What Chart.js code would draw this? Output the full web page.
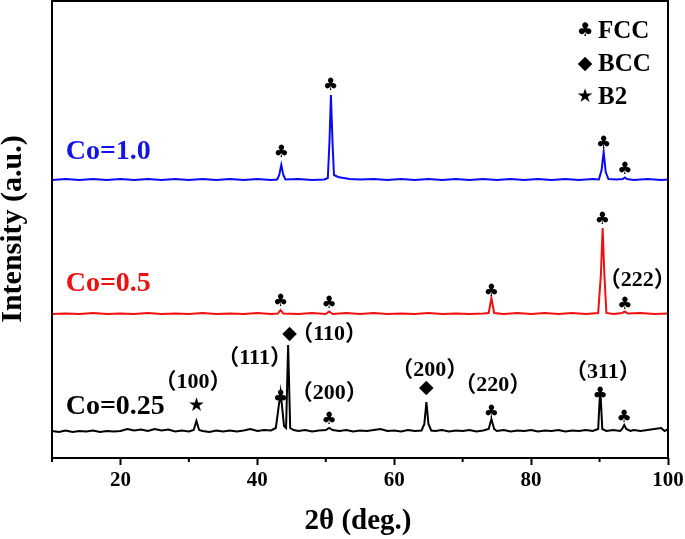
<!DOCTYPE html>
<html>
<head>
<meta charset="utf-8">
<script src="https://cdn.jsdelivr.net/npm/chart.js@4.4.1/dist/chart.umd.min.js"></script>
<style>
  html, body { margin: 0; padding: 0; background: #fff; }
  #wrap { width: 685px; height: 539px; }
</style>
</head>
<body>
<div id="wrap"><canvas id="xrdChart" width="685" height="539"></canvas></div>
<script>
// --- data: [2theta, intensity above own baseline] ---
const co100 = [[10,0],[12,1],[14,0],[16,1],[18,0],[20,1],[22,0],[24,1],[26,0],[28,1],[30,0],[32,1],[34,0],[36,1],[38,0],[40,1],[42,0],
  [42.9,0.5],[43.2,5],[43.5,15],[43.8,5],[44.1,0.5],[46,1],[48,0],[49.8,0.5],[50.3,2],[50.55,40],[50.75,85],[51.0,35],[51.2,5],
  [51.8,3],[52.6,2],[53.5,1],[55,0.5],[57,1],[59,0],[61,1],[63,0],[65,1],[67,0],[69,1],[71,0],[73,1],[75,0],[77,1],[79,0],
  [81,1],[83,0],[85,1],[87,0],[89,1],[89.9,0.5],[90.3,10],[90.6,28],[90.9,8],[91.3,1],[92.5,0.5],[93.4,1],[93.7,2.5],[94.0,1],
  [95,0],[97,1],[99,0],[100,0.5]];

const co050 = [[10,0],[12,0.5],[14,0],[16,1],[18,0],[20,0.5],[22,0],[24,1],[26,0],[28,0.5],[30,0],[32,1],[34,0],[36,0.5],[38,0],
  [40,1],[42,0],[43,0.5],[43.4,4],[43.8,0.5],[46,0],[48,1],[50,0],[50.5,2.5],[51,0],[53,1],[55,0],[57,1],[59,0],[61,0.5],[63,0],
  [65,1],[67,0],[69,0.5],[71,0],[73,0.5],[73.8,1],[74.2,16],[74.6,1],[76,0],[78,1],[80,0],[82,1],[84,0],[86,1],[88,0],[89.8,1],
  [90.2,40],[90.45,86],[90.7,40],[91.0,1],[92,0],[93.3,1],[93.7,2.5],[94.1,0.5],[96,1],[98,0],[100,0.5]];

const co025 = [[10,1],[11,0],[12,1.5],[13,0],[14,1],[15,0.5],[16,1.5],[17,0],[18,1],[19,0.5],[20,1],[21,3],[22,1.5],[23,2.5],
  [24,1],[25,3],[26,1.5],[27,2.5],[28,0.5],[29,1.5],[30,0.5],[30.7,2],[31.1,11],[31.5,2],[32,1],[33,0],[34,1.5],[35,0.5],
  [36,1.5],[37,0.5],[38,1.5],[39,3],[40,1],[41,2],[42,1.5],[42.7,4],[43.4,40],[43.9,6],[44.2,4],[44.5,87],[44.8,4],[45.3,2],
  [46,1],[47,2],[48,0.5],[49,1.5],[50,2],[50.5,4],[51,2],[52,1],[53,2],[54,0.5],[55,1.5],[56,1],[57,2],[58,3],[59,1],[60,1.5],
  [61,0.5],[62,2],[63,1],[64,1.5],[64.4,8],[64.7,30],[65.0,8],[65.4,1.5],[66,1],[67,2],[68,0.5],[69,1.5],[70,1],[71,2],[72,0.5],
  [73,1.5],[73.8,3],[74.2,13],[74.6,3],[75,1],[76,2],[77,0.5],[78,1.5],[79,1],[80,2],[81,0.5],[82,1.5],[83,1],[84,2],[85,0.5],
  [86,1.5],[87,1],[88,2],[89,1],[89.8,3],[90.1,44],[90.4,3],[91,1],[92,2],[93,1],[93.3,3],[93.6,7],[93.9,3],[94.5,1],[95,2],
  [96,1],[97,2],[98,3],[99,4],[99.5,1],[100,3]];

// vertical offsets for the stacked patterns
const offset100 = 278;
const offset050 = 144;
const offset025 = 26;

const seriesNames = ['Co=1.0', 'Co=0.5', 'Co=0.25'];
const xTickLabels = [20, 40, 60, 80, 100];

// phase markers / Miller indices: [2theta, y, text]
const markers = [
  [43.5, 305, '\u2663'], [50.7, 372, '\u2663'], [90.6, 314, '\u2663'], [93.7, 288, '\u2663'],
  [43.4, 156, '\u2663'], [50.5, 154, '\u2663'], [74.2, 166, '\u2663'], [90.4, 238, '\u2663'], [93.7, 153, '\u2663'],
  [31.1, 52, '\u2605'], [43.4, 60, '\u2663'], [44.7, 124, '\u25C6'], [50.5, 38, '\u2663'], [64.7, 70, '\u25C6'],
  [74.2, 45, '\u2663'], [90.1, 63, '\u2663'], [93.6, 40, '\u2663']
];
const planes = [
  [30.6, 76, '（100）'], [39.6, 100, '（111）'], [50.5, 124, '（110）'], [50.5, 65, '（200）'],
  [65.2, 88, '（200）'], [74.4, 73, '（220）'], [90.5, 86, '（311）'], [95.5, 178, '（222）']
];
const seriesLabels = [[12, 306, 'Co=1.0', '#1414e6'], [12, 174, 'Co=0.5', '#ee1111'], [12, 51, 'Co=0.25', '#000']];

const serif = '"Liberation Serif", "Times New Roman", "DejaVu Serif", serif';
const symFont = '"DejaVu Sans", sans-serif';

function shift(arr, off) {
  return arr.map(p => ({ x: p[0], y: p[1] + off }));
}

const annotatePlugin = {
  id: 'annotate',
  afterDatasetsDraw(chart) {
    const { ctx, chartArea: a, scales: { x, y } } = chart;
    ctx.save();
    ctx.textAlign = 'center';
    ctx.textBaseline = 'middle';
    ctx.fillStyle = '#000';
    markers.forEach(m => {
      ctx.font = (m[2] === '\u2663' ? '17px ' : '19px ') + symFont;
      ctx.fillText(m[2], x.getPixelForValue(m[0]), y.getPixelForValue(m[1]));
    });
    ctx.font = 'bold 22px ' + serif + ', "Noto Sans CJK SC"';
    planes.forEach(p => ctx.fillText(p[2], x.getPixelForValue(p[0]), y.getPixelForValue(p[1])));
    ctx.textAlign = 'left';
    ctx.font = 'bold 28px ' + serif;
    seriesLabels.forEach(s => {
      ctx.fillStyle = s[3];
      ctx.fillText(s[2], x.getPixelForValue(s[0]), y.getPixelForValue(s[1]));
    });

    // phase legend, top right
    const legend = [['\u2663', 'FCC', 31], ['\u25C6', 'BCC', 64], ['\u2605', 'B2', 97]];
    ctx.fillStyle = '#000';
    legend.forEach(l => {
      ctx.textAlign = 'center';
      ctx.font = '19px ' + symFont;
      ctx.fillText(l[0], 585, l[2]);
      ctx.textAlign = 'left';
      ctx.font = 'bold 25px ' + serif;
      ctx.fillText(l[1], 598, l[2] + 1);
    });

    // x tick labels and minor ticks
    ctx.textAlign = 'center';
    ctx.font = 'bold 21px ' + serif;
    xTickLabels.forEach(v => ctx.fillText(String(v), x.getPixelForValue(v), a.bottom + 23));
    ctx.strokeStyle = '#000';
    ctx.lineWidth = 2;
    [10, 30, 50, 70, 90].forEach(v => {
      const px = x.getPixelForValue(v);
      ctx.beginPath();
      ctx.moveTo(px, a.bottom);
      ctx.lineTo(px, a.bottom + 4);
      ctx.stroke();
    });

    // frame
    ctx.strokeRect(a.left, a.top, a.right - a.left, a.bottom - a.top);

    // axis titles
    ctx.font = 'bold 29px ' + serif;
    ctx.fillText('2\u03B8 (deg.)', (a.left + a.right) / 2 - 2, 522);
    ctx.translate(13, 229);
    ctx.rotate(-Math.PI / 2);
    ctx.font = 'bold 30px ' + serif;
    ctx.fillText('Intensity (a.u.)', 0, 0);
    ctx.restore();
  }
};

new Chart(document.getElementById('xrdChart'), {
  type: 'line',
  data: {
    datasets: [
      { label: seriesNames[0], data: shift(co100, offset100), borderColor: '#0a0af5' },
      { label: seriesNames[1], data: shift(co050, offset050), borderColor: '#f01010' },
      { label: seriesNames[2], data: shift(co025, offset025), borderColor: '#000000' }
    ]
  },
  options: {
    responsive: false,
    animation: false,
    layout: { padding: { left: 52, right: 17, top: 1, bottom: 0 } },
    elements: {
      point: { radius: 0 },
      line: { borderWidth: 2, tension: 0 }
    },
    scales: {
      x: {
        type: 'linear',
        min: 10,
        max: 100,
        afterFit: s => { s.height = 81; },
        border: { display: false },
        grid: {
          drawOnChartArea: false,
          tickLength: 7,
          tickWidth: 2,
          tickColor: c => (c.tick && xTickLabels.includes(c.tick.value) ? '#000' : 'rgba(0,0,0,0)')
        },
        ticks: { stepSize: 10, display: false }
      },
      y: { display: false, min: 0, max: 457 }
    },
    plugins: {
      legend: { display: false },
      tooltip: { enabled: false }
    }
  },
  plugins: [annotatePlugin]
});
</script>
</body>
</html>
